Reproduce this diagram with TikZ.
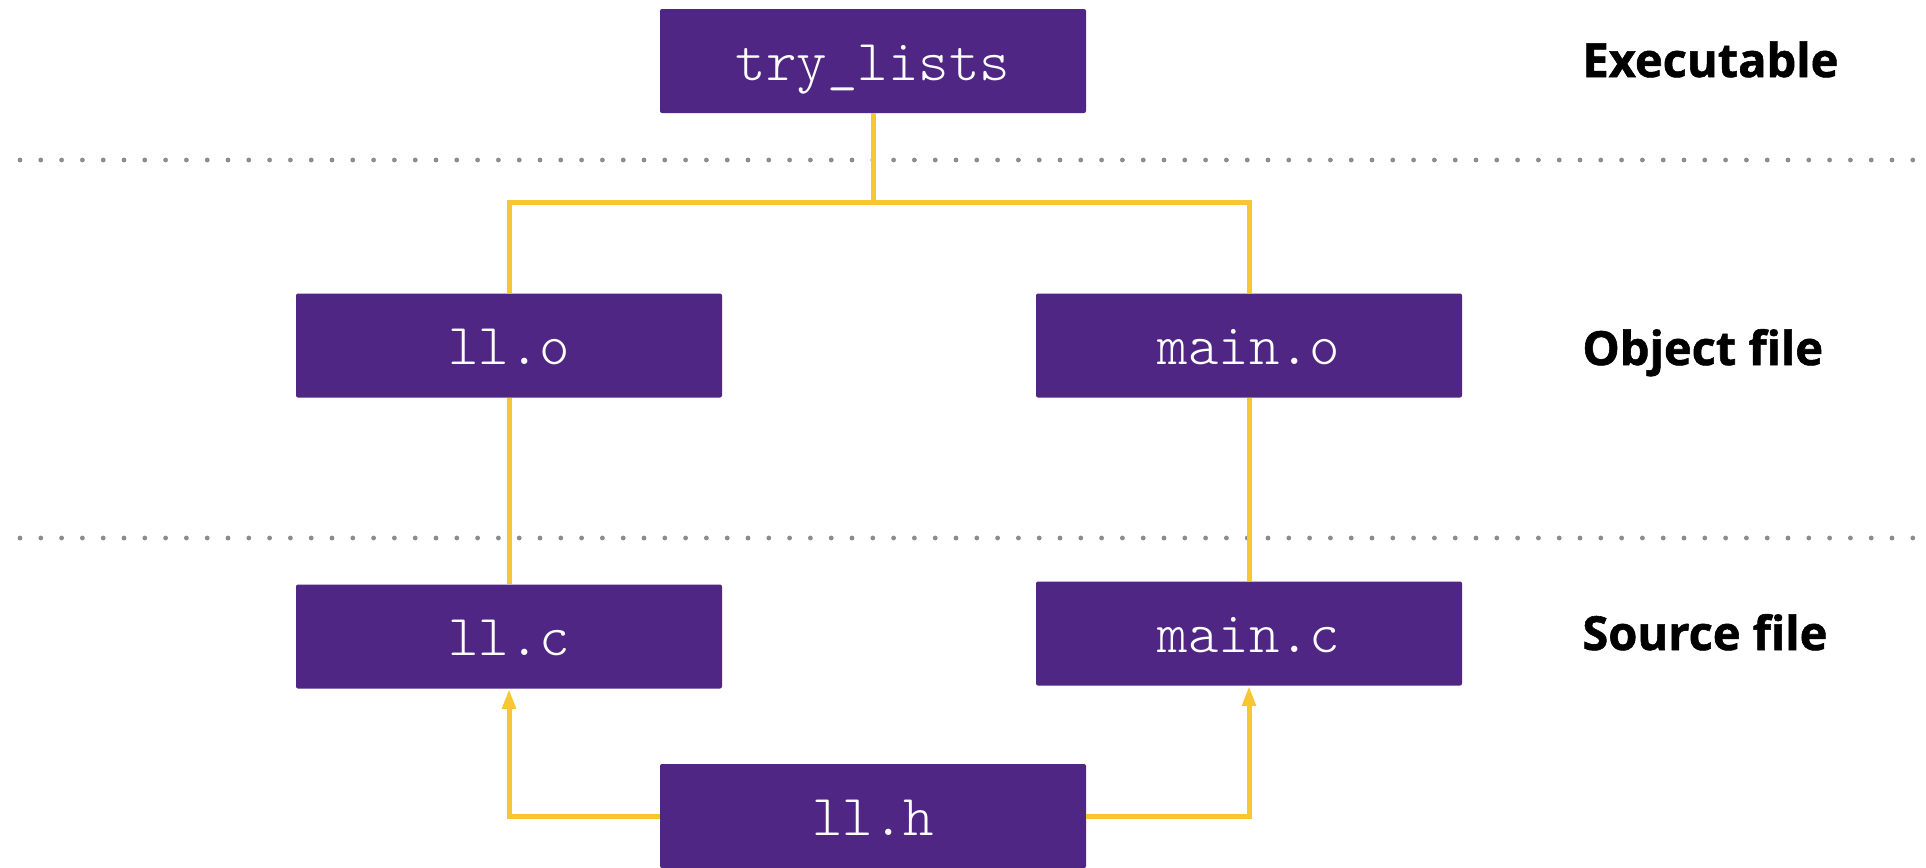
\documentclass[tikz,border=0pt]{standalone}
\usepackage{fontspec}
\setmainfont{Open Sans}
\newfontfamily\labelfont[BoldFeatures={FakeBold=1.2}]{Open Sans}
\newfontfamily\boxmono{Latin Modern Mono Light}
\usetikzlibrary{arrows.meta}
\definecolor{uwpurple}{RGB}{80,38,132}
\definecolor{linkgold}{RGB}{246,199,50}
\definecolor{dotgray}{RGB}{140,140,140}
\begin{document}
\begin{tikzpicture}[x=0.5pt,y=-0.5pt,
  filebox/.style={fill=uwpurple, draw=none, rounded corners=1pt,
    minimum width=213pt, minimum height=52pt, inner sep=0pt,
    text=white, text height=19pt, text depth=0pt,
    font=\fontsize{29}{34}\selectfont\boxmono},
  link/.style={draw=linkgold, line width=2.5pt},
  arr/.style={link, -{Triangle[length=10pt,width=6.5pt]}},
  sepline/.style={draw=dotgray, line width=2.4pt, line cap=round, dash pattern=on 0pt off 10.4pt},
  level/.style={anchor=base west, inner sep=0pt, font=\fontsize{23.5}{28}\selectfont\labelfont\bfseries}]

\fill[white] (0,0) rectangle (1926,867);
\useasboundingbox (0,0) rectangle (1926,867);

% separators
\draw[sepline] (20,160) -- (1926,160);
\draw[sepline] (20,538) -- (1926,538);

% nodes
\node[filebox] (try) at (873,61) {try\_lists};
\node[filebox] (llo) at (509,345.5) {ll.o};
\node[filebox] (maino) at (1249,345.5) {main.o};
\node[filebox] (llc) at (509,636.5) {ll.c};
\node[filebox] (mainc) at (1249,633.5) {main.c};
\node[filebox] (llh) at (873,816) {ll.h};

% connectors
\coordinate (j) at (873,202);
\draw[link] (try.south) -- (j);
\draw[link] (j) -| (llo.north);
\draw[link] (j) -| (maino.north);
\draw[link] (llo.south) -- (llc.north);
\draw[link] (maino.south) -- (mainc.north);
\draw[arr] (llh.west) -| (llc.south);
\draw[arr] (llh.east) -| (mainc.south);

% level labels
\node[level] (lexe) at (1582,77) {Executable};
\node[level] (lobj) at (1582,365) {Object file};
\node[level] (lsrc) at (1582,650) {Source file};
\end{tikzpicture}
\end{document}
